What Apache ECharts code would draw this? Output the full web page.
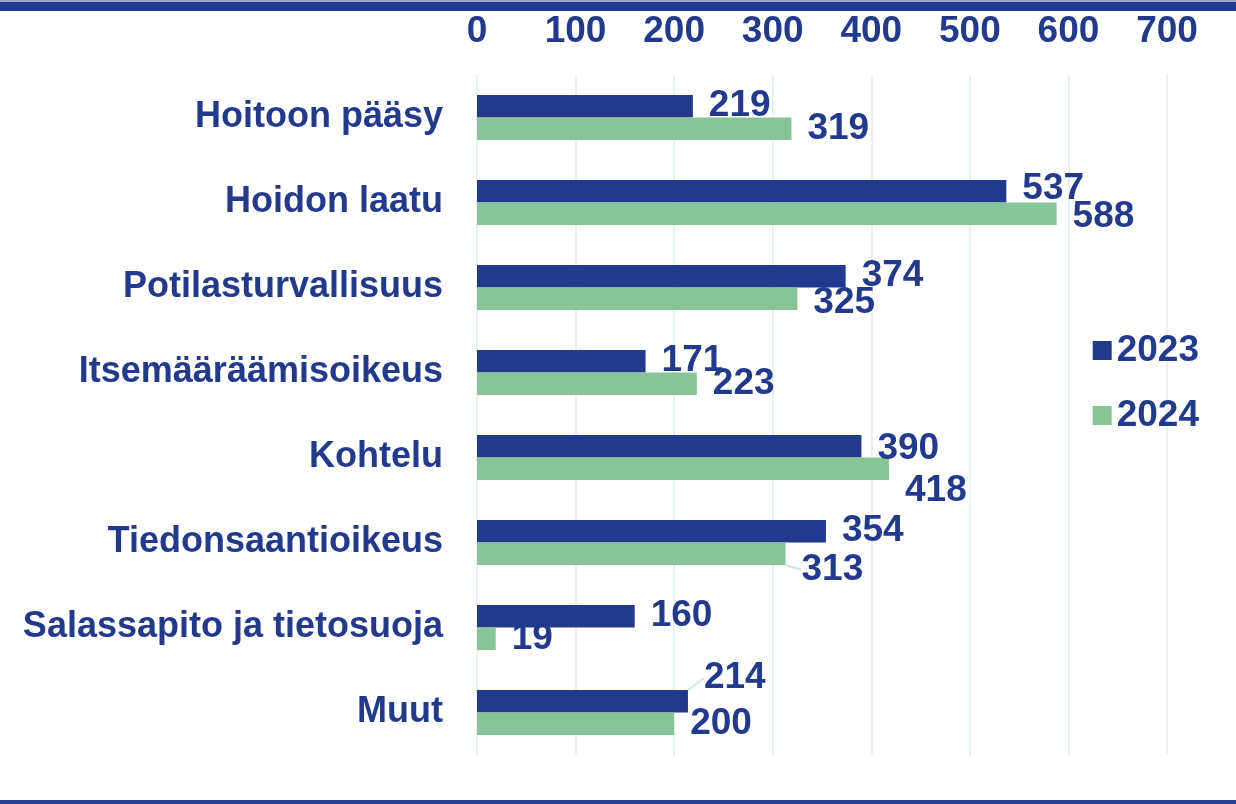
<!DOCTYPE html>
<html><head><meta charset="utf-8">
<script src="https://cdn.jsdelivr.net/npm/echarts@6/dist/echarts.min.js"></script>
<style>html,body{margin:0;padding:0;background:#fff}#c{width:1236px;height:804px}</style>
</head><body><div id="c"></div>
<script>
const categories = ['Hoitoon pääsy','Hoidon laatu','Potilasturvallisuus','Itsemääräämisoikeus','Kohtelu','Tiedonsaantioikeus','Salassapito ja tietosuoja','Muut'];
const values2023 = [219,537,374,171,390,354,160,214];
const values2024 = [319,588,325,223,418,313,19,200];
const seriesNames = ['2023','2024'];
const xTicks = [0,100,200,300,400,500,600,700];

const NAVY = '#223a8e', GREEN = '#87c598';
const FONT = "'Liberation Sans', Arial, sans-serif";
// label vertical nudges (layout only) and which moved labels get a leader line
const nudge = {'0-1': -2, '0-4': 3, '0-7': -23, '1-1': 3, '1-2': 4, '1-4': 22, '1-5': 16};
const withLine = {'0-7': true, '1-5': true};

const chart = echarts.init(document.getElementById('c'));
chart.setOption({
  animation: false,
  textStyle: {fontFamily: FONT},
  grid: {left: 477, right: 69, top: 75, bottom: 49},
  legend: {
    orient: 'vertical', right: 32, top: 327, itemGap: 28,
    itemWidth: 19, itemHeight: 19, icon: 'rect',
    textStyle: {color: NAVY, fontSize: 37, fontWeight: 'bold', fontFamily: FONT}
  },
  xAxis: {
    type: 'value', position: 'top', min: xTicks[0], max: xTicks[xTicks.length-1], interval: 100,
    axisLine: {show: false}, axisTick: {show: false},
    axisLabel: {color: NAVY, fontSize: 37, fontWeight: 'bold', margin: 25, fontFamily: FONT},
    splitLine: {lineStyle: {color: '#e9f3ee', width: 2}}
  },
  yAxis: {
    type: 'category', data: categories, inverse: true,
    axisLine: {lineStyle: {color: '#e9f3ee', width: 2}},
    axisTick: {length: 12, lineStyle: {color: '#e9f3ee', width: 2}},
    axisLabel: {color: NAVY, fontSize: 36, fontWeight: 'bold', margin: 34, fontFamily: FONT}
  },
  series: [values2023, values2024].map((vals, si) => ({
    name: seriesNames[si], type: 'bar',
    data: vals.map((v, i) => ({value: v, labelLine: {show: !!withLine[si + '-' + i]}})),
    barWidth: 22.5, barGap: '0%',
    itemStyle: {color: si === 0 ? NAVY : GREEN},
    label: {show: true, position: 'right', distance: 16, color: NAVY, fontSize: 37, fontWeight: 'bold', fontFamily: FONT},
    labelLine: {lineStyle: {color: '#cfe8d8', width: 2}},
    labelLayout: p => { const d = nudge[si + '-' + p.dataIndex]; return d ? {dy: d} : {}; }
  })),
  graphic: [
    {type: 'rect', shape: {x: 0, y: 0, width: 1236, height: 2}, style: {fill: '#9aa6cc'}},
    {type: 'rect', shape: {x: 0, y: 2, width: 1236, height: 9}, style: {fill: NAVY}},
    {type: 'rect', shape: {x: 0, y: 800, width: 1236, height: 4}, style: {fill: '#2c4290'}}
  ]
});
</script></body></html>
